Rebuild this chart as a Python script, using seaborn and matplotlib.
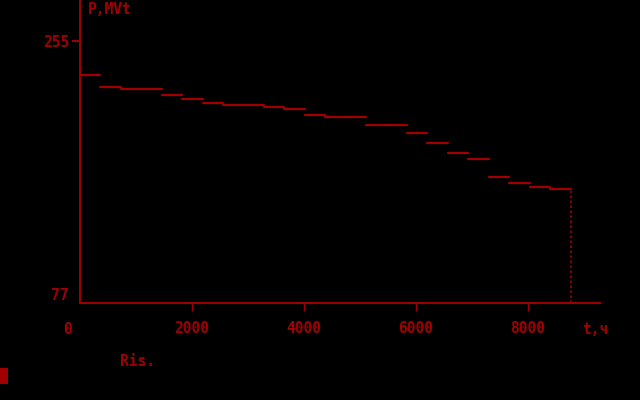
import matplotlib
matplotlib.use("Agg")
import matplotlib.pyplot as plt
import numpy as np
import pandas as pd
import seaborn as sns

# yearly load curve, 24 steps of 365 h each
step_hours = 365
power = [231.9, 223.8, 222.2, 222.2, 218.3, 215.4, 212.9, 211.5,
         211.5, 210.2, 208.6, 204.7, 203.4, 203.4, 197.9, 197.9,
         192.5, 185.7, 178.9, 174.8, 162.6, 158.5, 155.8, 154.5]
y_ticks = [77, 255]
x_ticks = [2000, 4000, 6000, 8000]
t_end = 8760

red = "#a00000"
bg = "black"

sns.set_style("dark")
plt.rcParams['font.family'] = ['DejaVu Sans Mono']
plt.rcParams['font.weight'] = 'bold'

rows = []
for i, p in enumerate(power):
    rows.append({"t": i * step_hours, "P": p, "seg": i})
    rows.append({"t": (i + 1) * step_hours, "P": p, "seg": i})
df = pd.DataFrame(rows)

fig = plt.figure(figsize=(6.4, 4.0), dpi=100, facecolor=bg)
ax = fig.add_axes([80 / 640, 1 - 302.7 / 400, 520 / 640, 302.7 / 400])
ax.set_facecolor(bg)

sns.lineplot(data=df, x="t", y="P", units="seg", estimator=None,
             color=red, linewidth=1.6, ax=ax, legend=False)
ax.plot([t_end, t_end], [77, power[-1]], color=red, linewidth=1.2, linestyle=(0, (1.5, 1.5)))

ax.set_xlim(0, 9286)
ax.set_ylim(77, 282.7)
ax.grid(False)
for s in ["top", "right"]:
    ax.spines[s].set_visible(False)
for s in ["left", "bottom"]:
    ax.spines[s].set_color(red)
    ax.spines[s].set_linewidth(1.4)

ax.set_xticks(x_ticks, labels=[str(v) for v in x_ticks])
ax.set_yticks(y_ticks, labels=[str(v) for v in y_ticks])
ax.tick_params(axis="x", bottom=True, colors=red, direction="out", length=6, width=1, pad=7, labelsize=10.5)
ax.tick_params(axis="y", left=True, colors=red, direction="out", length=6, width=1.4, pad=2, labelsize=10.5)
ax.yaxis.get_major_ticks()[0].tick1line.set_visible(False)
ax.yaxis.get_major_ticks()[0].label1.set_va("bottom")
ax.set_xlabel("")
ax.set_ylabel("")

fig.text(67 / 640, 1 - 329 / 400, "0", color=red, fontsize=10.5, ha="center", va="center")
fig.text(595 / 640, 1 - 329 / 400, "t,ч", color=red, fontsize=10.5, ha="center", va="center")
fig.text(88 / 640, 1 - 9 / 400, "P,MVt", color=red, fontsize=10.5, ha="left", va="center")
fig.text(120 / 640, 1 - 362 / 400, "Ris.", color=red, fontsize=10.5, ha="left", va="center")
fig.patches.append(plt.Rectangle((0, 16 / 400), 8 / 640, 16 / 400, transform=fig.transFigure,
                                 facecolor=red, edgecolor="none"))

fig.savefig("out.png", dpi=100, facecolor=bg)
